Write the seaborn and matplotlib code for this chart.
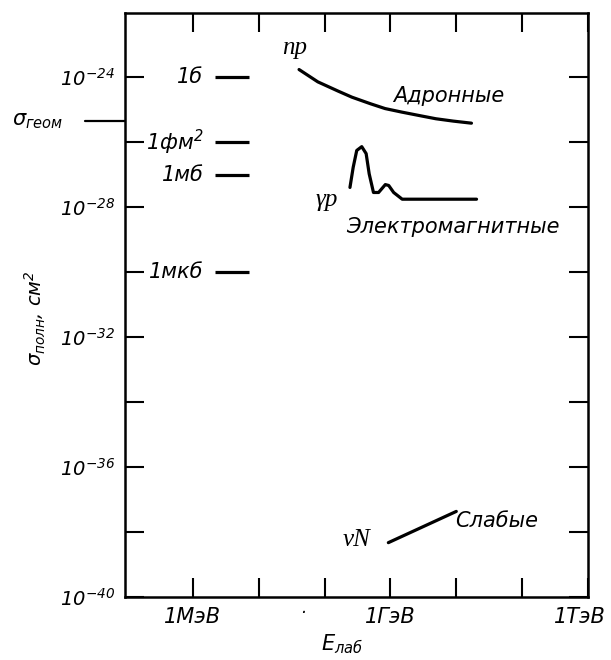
import matplotlib
matplotlib.use("Agg")
import matplotlib.pyplot as plt
import matplotlib.transforms as mtransforms
import seaborn as sns

# ----------------------- данные (E в МэВ, сечение в см^2)
hadr_E = [41, 79, 160, 260, 500, 830, 1500, 3000, 4900, 9000, 17000]
hadr_sigma = [1.7e-24, 7.1e-25, 3.7e-25, 2.4e-25, 1.5e-25, 1.07e-25, 8.3e-26,
              6.3e-26, 5.2e-26, 4.4e-26, 3.8e-26]

em_E = [243, 272, 308, 367, 428, 476, 553, 661, 837, 942, 1120, 1510, 20300]
em_sigma = [4.0e-28, 1.66e-27, 5.5e-27, 7.2e-27, 4.4e-27, 1.05e-27, 2.8e-28,
            2.8e-28, 4.9e-28, 4.6e-28, 2.8e-28, 1.74e-28, 1.74e-28]

weak_E = [930, 10000]
weak_sigma = [4.7e-39, 4.3e-38]

unit_names = ["1б", "1фм$^2$", "1мб", "1мкб"]
unit_sigma = [1e-24, 1e-26, 1e-27, 1e-30]
unit_E = [2.2, 7.2]

sigma_geom = 4.4e-26

x_ticks = [1, 10, 100, 1e3, 1e4, 1e5, 1e6]
x_ticklabels = ["1МэВ", "", "", "1ГэВ", "", "", "1ТэВ"]
y_ticks = [1e-40, 1e-38, 1e-36, 1e-34, 1e-32, 1e-30, 1e-28, 1e-26, 1e-24]
y_ticklabels = ["$10^{-40}$", "", "$10^{-36}$", "", "$10^{-32}$", "",
                "$10^{-28}$", "", "$10^{-24}$"]

sns.set_style("ticks")
plt.rcParams['font.family'] = ['DejaVu Sans']
plt.rcParams['font.style'] = 'italic'
plt.rcParams['mathtext.fontset'] = 'custom'
plt.rcParams['mathtext.rm'] = 'DejaVu Sans:italic'
plt.rcParams['mathtext.it'] = 'DejaVu Sans:italic'
plt.rcParams['text.color'] = 'black'
plt.rcParams['axes.labelcolor'] = 'black'
plt.rcParams['xtick.color'] = 'black'
plt.rcParams['ytick.color'] = 'black'

fig = plt.figure(figsize=(6.11, 6.6), dpi=100)
ax = fig.add_axes([125 / 611, 63 / 660, 463 / 611, 584 / 660])
ax.set_xscale('log')
ax.set_yscale('log')

lw = 2.3
sns.lineplot(x=hadr_E, y=hadr_sigma, ax=ax, color='black', lw=lw, sort=False, estimator=None)
sns.lineplot(x=em_E, y=em_sigma, ax=ax, color='black', lw=lw, sort=False, estimator=None)
sns.lineplot(x=weak_E, y=weak_sigma, ax=ax, color='black', lw=lw, sort=False, estimator=None)

# единицы измерения сечения
ax.hlines(unit_sigma, unit_E[0], unit_E[1], color='black', lw=lw)
for name, s in zip(unit_names, unit_sigma):
    ax.text(1.45, s, name, ha='right', va='center', fontsize=15)

# геометрическое сечение - черта слева от оси
tr = mtransforms.blended_transform_factory(ax.transAxes, ax.transData)
ax.plot([-0.086, 0], [sigma_geom, sigma_geom], color='black', lw=1.6,
        transform=tr, clip_on=False)
ax.text(-0.244, sigma_geom, r"$\sigma_{геом}$", transform=tr, ha='left',
        va='center', fontsize=15)

ax.set_xlim(10 ** -1.03, 1e6)
ax.set_ylim(1e-40, 10 ** -22.03)
ax.set_xticks(x_ticks)
ax.set_xticklabels(x_ticklabels, fontsize=15)
ax.set_yticks(y_ticks)
ax.set_yticklabels(y_ticklabels, fontsize=14)
ax.minorticks_off()
ax.tick_params(axis='both', which='major', direction='in', length=14, width=1.5,
               top=True, right=True, pad=7, color='black')
for sp in ax.spines.values():
    sp.set_linewidth(1.8)
    sp.set_color('black')

# подпись 1ТэВ немного левее, чтобы не обрезалась
last = ax.get_xticklabels()[-1]
last.set_transform(last.get_transform() +
                   mtransforms.ScaledTranslation(-8 / 100, 0, fig.dpi_scale_trans))

# точка под осью, как на исходном рисунке
ax.text(0.384, -0.028, "·", transform=ax.transAxes, ha='center', va='center', fontsize=12)

serif = dict(family=['Liberation Serif', 'DejaVu Serif'], style='italic', fontsize=18)
ax.text(0.366, 0.940, "np", transform=ax.transAxes, ha='center', va='center', **serif)
ax.text(0.436, 0.680, "γp", transform=ax.transAxes, ha='center', va='center', **serif)
ax.text(0.501, 0.097, "νN", transform=ax.transAxes, ha='center', va='center', **serif)

ax.text(0.700, 0.858, "Адронные", transform=ax.transAxes, ha='center', va='center', fontsize=15)
ax.text(0.708, 0.634, "Электромагнитные", transform=ax.transAxes, ha='center', va='center', fontsize=15)
ax.text(0.803, 0.130, "Слабые", transform=ax.transAxes, ha='center', va='center', fontsize=15)

ax.set_ylabel(r"$\sigma_{полн}$, см$^2$", fontsize=14)
ax.yaxis.set_label_coords(-0.166, 0.478)
ax.set_xlabel(r"$E_{лаб}$", fontsize=15)
ax.xaxis.set_label_coords(0.469, -0.06)

fig.savefig("out.png", dpi=100)
